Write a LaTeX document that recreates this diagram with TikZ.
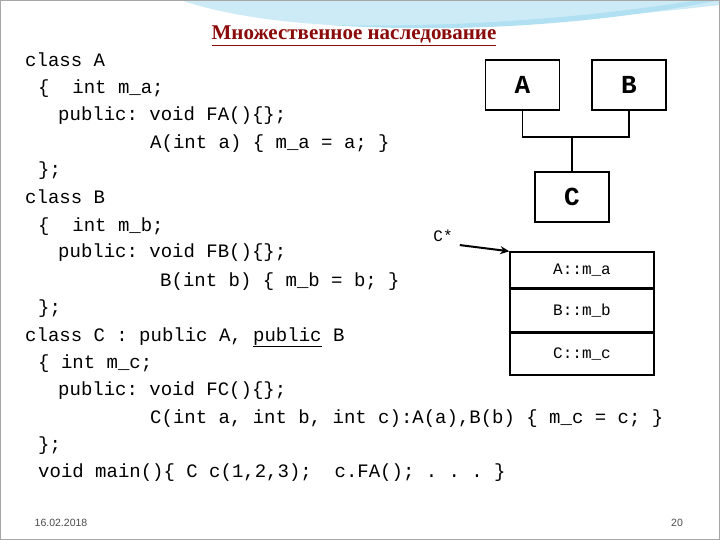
\documentclass[tikz,border=0pt]{standalone}
\usepackage{fontspec}
\setmonofont{Liberation Mono}
\setmainfont{Liberation Serif}
\newfontfamily\uifont{Liberation Sans}
\definecolor{titlered}{HTML}{8B0A0A}
\definecolor{sky}{HTML}{8FD3EC}
\usetikzlibrary{arrows.meta}
\begin{document}
\begin{tikzpicture}[x=1pt,y=-1pt,
  code/.style={anchor=base west,inner sep=0pt,font=\ttfamily\fontsize{19}{20}\selectfont},
  bx/.style={draw,line width=1.4pt,minimum width=74pt,minimum height=50pt,inner sep=0pt,font=\ttfamily\bfseries\fontsize{26}{28}\selectfont},
  mem/.style={draw,line width=1.4pt,minimum width=144pt,inner sep=0pt,font=\ttfamily\fontsize{16}{18}\selectfont},
  ln/.style={line width=1.4pt}]
\useasboundingbox (0,0) rectangle (720,540);
\fill[white] (0,0) rectangle (720,540);
% top swoosh
\fill[sky!45] (180,0) .. controls (300,40) and (500,30) .. (720,5) -- (720,0) -- cycle;
\fill[sky!70] (330,25) .. controls (480,35) and (620,20) .. (720,0) -- (700,0) .. controls (600,15) and (480,28) .. (330,25);
\draw[gray!70,line width=1pt] (0.5,0.5) rectangle (719.5,539.5);
% title
\node[anchor=base,font=\bfseries\fontsize{21}{23}\selectfont,text=titlered] (title) at (354,40) {\underline{Множественное наследование}};
% code
\node[code] (l1) at (25,67) {class A};
\node[code] (l2) at (38,94) {\{\ \ int m\_a;};
\node[code] (l3) at (58,121) {public: void FA()\{\};};
\node[code] (l4) at (150,149) {A(int a) \{ m\_a = a; \}};
\node[code] (l5) at (38,176) {\};};
\node[code] (l6) at (25,204) {class B};
\node[code] (l7) at (38,231) {\{\ \ int m\_b;};
\node[code] (l8) at (58,258) {public: void FB()\{\};};
\node[code] (l9) at (160,286) {B(int b) \{ m\_b = b; \}};
\node[code] (l10) at (38,313) {\};};
\node[code] (l11) at (25,341) {class C : public A, \underline{public} B};
\node[code] (l12) at (38,368) {\{ int m\_c;};
\node[code] (l13) at (58,395) {public: void FC()\{\};};
\node[code] (l14) at (150,423) {C(int a, int b, int c):A(a),B(b) \{ m\_c = c; \}};
\node[code] (l15) at (38,450) {\};};
\node[code] (l16) at (38,477) {void main()\{ C c(1,2,3);\ \ c.FA(); . . . \}};
% boxes
\node[bx] (A) at (522.5,85) {A};
\node[bx] (B) at (629,85) {B};
\node[bx] (C) at (572,197) {C};
\coordinate (j) at (572,137);
\draw[ln] (A.south) |- (j) -| (B.south);
\draw[ln] (j) -- (C.north);
% memory
\node[mem,minimum height=36pt] (ma) at (582,270) {A::m\_a};
\node[mem,minimum height=42pt,anchor=north] (mb) at (ma.south) {B::m\_b};
\node[mem,minimum height=42pt,anchor=north] (mc) at (mb.south) {C::m\_c};
\node[font=\ttfamily\fontsize{16}{18}\selectfont,inner sep=1pt] (cs) at (443,236) {C*};
\draw[line width=2pt,-{Stealth[length=9pt,width=8pt]}] (cs.south east) ++(6,2) coordinate (cse) -- (ma.north west);
% footer
\node[font=\uifont\fontsize{10.5}{11}\selectfont,text=gray!60!black] (date) at (61,523) {16.02.2018};
\node[font=\uifont\fontsize{10.5}{11}\selectfont,text=gray!60!black] (pg) at (677,523) {20};
\end{tikzpicture}
\end{document}
